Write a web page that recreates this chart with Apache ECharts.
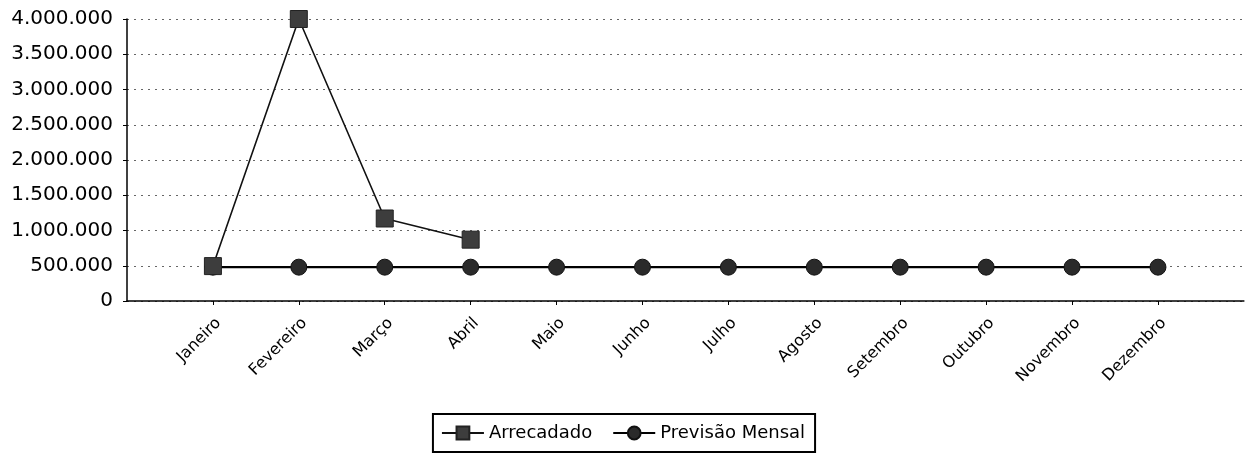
<!DOCTYPE html>
<html>
<head>
<meta charset="utf-8">
<script src="https://cdn.jsdelivr.net/npm/echarts@6/dist/echarts.min.js"></script>
<style>
  html, body { margin: 0; padding: 0; background: #fff; }
  #chart { width: 1246px; height: 455px; }
</style>
</head>
<body>
<div id="chart"></div>
<script>
// Meses do ano
const meses = ['Janeiro', 'Fevereiro', 'Março', 'Abril', 'Maio', 'Junho',
  'Julho', 'Agosto', 'Setembro', 'Outubro', 'Novembro', 'Dezembro'];

// Valores arrecadados (apenas os meses já apurados)
const arrecadado = [495000, 4000000, 1170000, 870000, null, null,
  null, null, null, null, null, null];

// Previsão mensal de arrecadação
const previsaoMensal = [480000, 480000, 480000, 480000, 480000, 480000,
  480000, 480000, 480000, 480000, 480000, 480000];

// Eixo Y
const yMin = 0;
const yMax = 4000000;
const yStep = 500000;

// Categorias vazias nas pontas para dar margem antes de Janeiro e depois de Dezembro
const cats = [''].concat(meses, ['']);
const pad = arr => [null].concat(arr, [null]);

const fmt = v => String(v).replace(/\B(?=(\d{3})+(?!\d))/g, '.');
const FONT = 'DejaVu Sans';

const chart = echarts.init(document.getElementById('chart'), null, { renderer: 'canvas' });
chart.setOption({
  backgroundColor: '#ffffff',
  animation: false,
  textStyle: { fontFamily: FONT, color: '#000' },
  grid: { left: 127, right: 2, top: 19, bottom: 154, containLabel: false },
  legend: {
    bottom: 3,
    left: 'center',
    orient: 'horizontal',
    borderColor: '#000',
    borderWidth: 2,
    padding: [10, 10, 10, 8],
    itemGap: 20,
    itemWidth: 42,
    itemHeight: 16,
    textStyle: { fontFamily: FONT, fontSize: 18, color: '#000' },
    data: ['Arrecadado', 'Previsão Mensal']
  },
  xAxis: {
    type: 'category',
    data: cats,
    boundaryGap: false,
    axisLine: { show: true, onZero: false, lineStyle: { color: '#000', width: 1.5 } },
    axisTick: {
      show: true,
      length: 4,
      interval: (i) => i > 0 && i < cats.length - 1,
      lineStyle: { color: '#000' }
    },
    axisLabel: {
      interval: 0,
      rotate: 45,
      fontSize: 16,
      color: '#000',
      margin: 14,
      verticalAlign: 'top',
      fontFamily: FONT
    },
    splitLine: { show: false }
  },
  yAxis: {
    type: 'value',
    min: yMin,
    max: yMax,
    interval: yStep,
    axisLine: { show: true, lineStyle: { color: '#000', width: 1.5 } },
    axisTick: { show: true, length: 4, lineStyle: { color: '#000' } },
    axisLabel: {
      fontSize: 20,
      color: '#000',
      margin: 14,
      fontFamily: FONT,
      formatter: v => fmt(v)
    },
    splitLine: { show: true, lineStyle: { color: '#666', width: 1, type: [2, 5] } }
  },
  series: [
    {
      name: 'Arrecadado',
      type: 'line',
      data: pad(arrecadado),
      symbol: 'rect',
      symbolSize: [17, 17],
      lineStyle: { color: '#111', width: 1.6 },
      itemStyle: { color: '#3d3d3d', borderColor: '#222', borderWidth: 1 },
      connectNulls: false,
      z: 3
    },
    {
      name: 'Previsão Mensal',
      type: 'line',
      data: pad(previsaoMensal),
      symbol: 'circle',
      symbolSize: 16,
      lineStyle: { color: '#000', width: 2.4 },
      itemStyle: { color: '#2a2a2a', borderColor: '#111', borderWidth: 1 },
      z: 2
    }
  ]
});
</script>
</body>
</html>
